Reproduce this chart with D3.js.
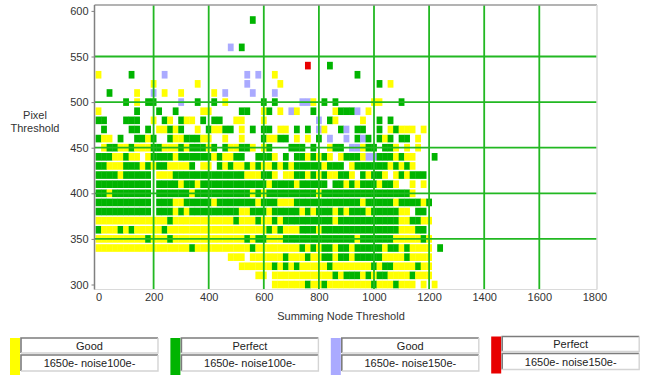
<!DOCTYPE html>
<html><head><meta charset="utf-8">
<script src="https://cdn.jsdelivr.net/npm/d3@7"></script>
<style>
body{margin:0;background:#fff;}
svg{display:block;font-family:"Liberation Sans",Arial,sans-serif;}
</style>
</head><body>
<svg id="chart" width="649" height="379"></svg>
<script>
// ---------- data ----------
const xTicks = [0, 200, 400, 600, 800, 1000, 1200, 1400, 1600, 1800];
const yTicks = [300, 350, 400, 450, 500, 550, 600];
const summingNodeStep = 20;          // column spacing (Summing Node Threshold)
const pixelStep = 10;                // row spacing (Pixel Threshold)
const pixelThresholds = [590, 580, 570, 560, 550, 540, 530, 520, 510, 500,
                         490, 480, 470, 460, 450, 440, 430, 420, 410, 400,
                         390, 380, 370, 360, 350, 340, 330, 320, 310, 300];
// one string per pixel threshold; char i = summing node threshold i*20
// y = Good 100e-, g = Perfect 100e-, b = Good 150e-, r = Perfect 150e-
const cellRows = [
  "..........|..........|........g.|..........|..........|..........|...",
  "..........|..........|..........|..........|..........|..........|...",
  "..........|..........|..........|..........|..........|..........|...",
  "..........|..........|....b.g...|..........|..........|..........|...",
  "..........|..........|..........|..........|..........|..........|...",
  "..........|..........|..........|........r.|..g.......|..........|...",
  "y.....g...|..b.......|.......b.b|..y.......|.......g..|..........|...",
  "..........|y.......y.|.......b..|...y......|..........|.g.y......|...",
  "..g....y..|b.y..y....|.y.b....b.|..b.......|..........|..........|...",
  ".....g.y.g|g....b..g.|.g.y......|g.g....bby|.g.g......|yy...g....|...",
  "y......g..|.g..g....y|y.....gg..|yg.y.by..g|...ygggb.y|..........|...",
  "gg...ggg..|y.gy.gyy.g|.gg..yy...|y.........|b.gy....y.|.g.g......|...",
  ".g....gg.g|.yygyg..y.|gyygg.y.g.|gg.yy.g.g.|by..gb.gg.|.g.ygyyy.y|...",
  "gyy.g..ggy|g..gyygggy|y..y..y...|gyygg.y.y.|g.b..b.gbg|.gyg.gg.y.|...",
  ".yggyygyyy|ggyyygyggg|yg.gyyggy.|yg...ggg.g|..ygg.bbyg|g.ggy.y.y.|...",
  "gggyygyy.y|ggggyggggg|gygyygg..g|ggy.g.ggyg|ygy.ygggyb|bgggygyy..|.g.",
  "ggyyygggyg|yggyyyyg.y|y.gygyygyg|yygygygggg|gyggg.yggg|gggygygy..|...",
  "ggggyggggg|.yyygggggg|gggggggyyy|ggy.yyggyg|ygyyggy.gy|ggy.ygyggg|...",
  "gggggggggg|.ggggyggyg|gggggggggg|gyggggyggg|gg.ggygygg|gyggy..y.y|...",
  "ggyggggggg|.ggggggygg|ggggggggyg|yggggggggg|yggggggggg|gggggggy..|...",
  "gggggggggg|.gggyygggg|gygggggggy|gggyyygggg|ggggggggyg|ggggyggggy|g..",
  "gggggggggg|.gggygyggg|ggggggyygg|gygggggygy|gggygygggy|gggggyy.gg|...",
  "yyyyyyyyyy|yyygyyyyyy|yyyyygyyyg|yygygggggg|gggygggggg|gggggyyggy|y..",
  "gyyygygyyy|yygyyyyyyy|yyyyyyyyyy|ygygyyyggg|yggggggggg|gggggyyygg|...",
  "yyyyyyyyyg|yyygyyyyyy|yyyyyyygyg|gyyygggggg|gggggggygg|ggggyyyyyg|y..",
  "yyyyyyyyyy|yyyyyyygyy|yyyyyyyygy|yyyyyyygyg|yggyggyggg|ggyggygyyy|y.g",
  "..........|..........|....yyy.yy|yyyygyyygy|yggyggyggg|ggyyyygyyy|y..",
  "..........|..........|......yyyy|yygygygyyy|yygyyyyyyy|gyggyyyygy|y..",
  "..........|..........|.........y|y.yyyyyyyy|yyygygggyg|yggyyyygyy|y..",
  "..........|..........|..........|..yyyyyygy|ygyyyyyyyy|gyyygyyy.y|.y."
];
const seriesCodes   = ["y", "g", "b", "r"];
const seriesLabels  = ["Good", "Perfect", "Good", "Perfect"];
const seriesConfigs = ["1650e- noise100e-", "1650e- noise100e-", "1650e- noise150e-", "1650e- noise150e-"];
const seriesColors  = ["#ffff00", "#00b400", "#aaaaff", "#e80000"];

// ---------- build cells ----------
const cells = [];
cellRows.forEach((row, j) => {
  row.replace(/\|/g, "").split("").forEach((ch, i) => {
    const s = seriesCodes.indexOf(ch);
    if (s >= 0) cells.push({sn: i * summingNodeStep, px: pixelThresholds[j], s});
  });
});

// ---------- layout ----------
const svg = d3.select("#chart");
const plot = {left: 94.5, right: 597, top: 5, bottom: 289.5};
const x = d3.scaleLinear().domain([0, 1800]).range([98.5, 594.4]);
const y = d3.scaleLinear().domain([300, 600]).range([284.5, 10.9]);
const cw = x(summingNodeStep) - x(0) + 0.3;
const ch = (y(300) - y(300 + pixelStep)) - 1.5;

// plot background
svg.append("rect").attr("x", plot.left).attr("y", plot.top)
  .attr("width", plot.right - plot.left).attr("height", plot.bottom - plot.top)
  .attr("fill", "#fff");

// cells
svg.append("g").selectAll("rect").data(cells).join("rect")
  .attr("x", d => x(d.sn) - cw / 2)
  .attr("y", d => y(d.px) - ch / 2)
  .attr("width", cw).attr("height", ch)
  .attr("fill", d => seriesColors[d.s]);

// grid lines
const grid = svg.append("g").attr("stroke", "#22b822").attr("stroke-width", 1.8);
grid.selectAll("line.v").data(xTicks.filter(v => v > 0 && v < 1800)).join("line")
  .attr("x1", d => x(d)).attr("x2", d => x(d))
  .attr("y1", plot.top).attr("y2", plot.bottom);
grid.selectAll("line.h").data(yTicks.filter(v => v > 300 && v < 600)).join("line")
  .attr("x1", plot.left).attr("x2", plot.right)
  .attr("y1", d => y(d)).attr("y2", d => y(d));

// frame
svg.append("line").attr("x1", plot.left).attr("x2", plot.right).attr("y1", plot.top).attr("y2", plot.top)
  .attr("stroke", "#9a9a9a").attr("stroke-width", 1.5);
svg.append("line").attr("x1", plot.right).attr("x2", plot.right).attr("y1", plot.top).attr("y2", plot.bottom)
  .attr("stroke", "#dadada").attr("stroke-width", 1.5);
svg.append("line").attr("x1", plot.left).attr("x2", plot.right).attr("y1", plot.bottom).attr("y2", plot.bottom)
  .attr("stroke", "#dadada").attr("stroke-width", 1.2);

// y axis
const yAxis = svg.append("g").attr("transform", `translate(${plot.left},0)`)
  .call(d3.axisLeft(y).tickValues(yTicks).tickSize(3).tickPadding(3).tickFormat(d3.format("d")));
yAxis.select(".domain").attr("d", `M0,${plot.top}V${plot.bottom}`).attr("stroke", "#808080").attr("stroke-width", 1.5);
yAxis.selectAll(".tick line").attr("stroke", "#808080");
yAxis.selectAll("text").attr("font-size", 11).attr("fill", "#333").attr("font-family", "Liberation Sans, Arial, sans-serif");

// x axis
const xAxis = svg.append("g").attr("transform", `translate(0,${plot.bottom})`)
  .call(d3.axisBottom(x).tickValues(xTicks).tickSize(0).tickPadding(4).tickFormat(d3.format("d")));
xAxis.select(".domain").remove();
xAxis.selectAll("text").attr("font-size", 11).attr("fill", "#333").attr("font-family", "Liberation Sans, Arial, sans-serif");

// axis titles
svg.append("text").attr("x", 341).attr("y", 320).attr("text-anchor", "middle")
  .attr("font-size", 11).attr("fill", "#333").text("Summing Node Threshold");
svg.append("text").attr("x", 35).attr("y", 119).attr("text-anchor", "middle")
  .attr("font-size", 11).attr("fill", "#333").text("Pixel");
svg.append("text").attr("x", 35).attr("y", 132).attr("text-anchor", "middle")
  .attr("font-size", 11).attr("fill", "#333").text("Threshold");

// legend
function sunkenBox(g, bx, by, bw, bh, label) {
  g.append("rect").attr("x", bx).attr("y", by).attr("width", bw).attr("height", bh).attr("fill", "#fff");
  g.append("path").attr("d", `M${bx},${by + bh}V${by}H${bx + bw}`).attr("fill", "none")
    .attr("stroke", "#7c7c7c").attr("stroke-width", 1.6);
  g.append("path").attr("d", `M${bx + bw},${by}V${by + bh}H${bx}`).attr("fill", "none")
    .attr("stroke", "#d4d4d4").attr("stroke-width", 1.4);
  g.append("text").attr("x", bx + bw / 2).attr("y", by + bh / 2 + 4).attr("text-anchor", "middle")
    .attr("font-size", 11).attr("fill", "#222").text(label);
}
seriesLabels.forEach((lab, i) => {
  const gx = 10 + i * 160.4;
  const gy = i === 3 ? 336.5 : 338;
  const g = svg.append("g");
  g.append("rect").attr("x", gx).attr("y", gy).attr("width", 10).attr("height", 37).attr("fill", seriesColors[i]);
  sunkenBox(g, gx + 11, gy, 137, 15, lab);
  sunkenBox(g, gx + 11, gy + 17, 137, 16, seriesConfigs[i]);
});
</script>
</body></html>
